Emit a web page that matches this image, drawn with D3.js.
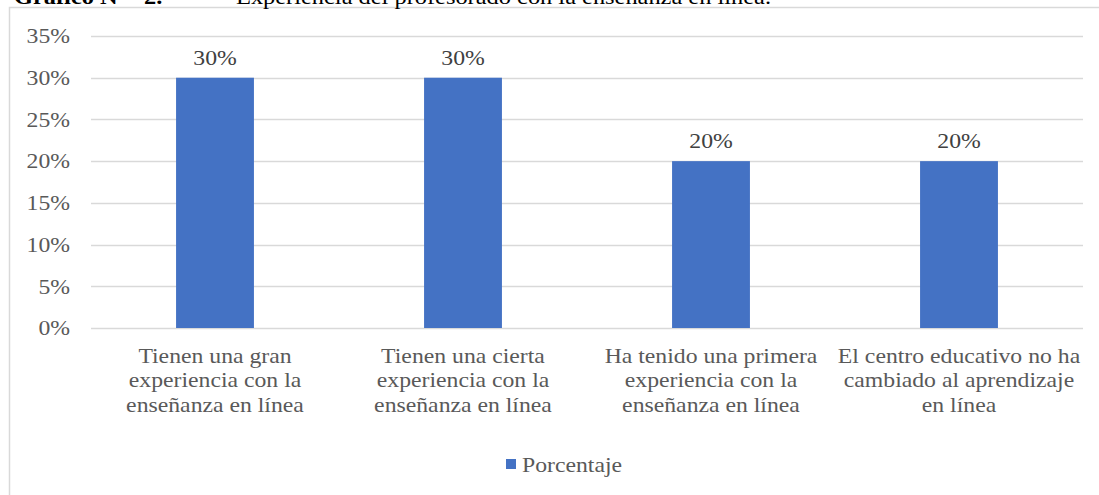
<!DOCTYPE html>
<html>
<head>
<meta charset="utf-8">
<script src="https://cdn.jsdelivr.net/npm/d3@7/dist/d3.min.js"></script>
<style>
  html, body { margin: 0; padding: 0; background: #fff; }
  svg { display: block; }
  text { font-family: "Liberation Serif", "Times New Roman", serif; }
</style>
</head>
<body>
<svg id="chart" width="1099" height="495"></svg>
<script>
// Experiencia del profesorado con la enseñanza en línea
const categories = [
  ["Tienen una gran", "experiencia con la", "enseñanza en línea"],
  ["Tienen una cierta", "experiencia con la", "enseñanza en línea"],
  ["Ha tenido una primera", "experiencia con la", "enseñanza en línea"],
  ["El centro educativo no ha", "cambiado al aprendizaje", "en línea"]
];
const porcentaje = [0.30, 0.30, 0.20, 0.20];
const yTicks = [0, 0.05, 0.10, 0.15, 0.20, 0.25, 0.30, 0.35];
const seriesName = "Porcentaje";

const svg = d3.select("#chart");
const fmt = d3.format(".0%");
const SX = 1.13;          // glyphs are drawn slightly wide
const FS = 21;            // base font size

// place a text at (x, y) with the wide glyph scaling
const at = (x, y) => `translate(${x},${y}) scale(${SX},1)`;

// chart frame (continues past the visible edge)
svg.append("rect")
  .attr("x", 9.5).attr("y", 7.5)
  .attr("width", 1200).attr("height", 600)
  .attr("fill", "#fff").attr("stroke", "#d9d9d9").attr("stroke-width", 1.5);

// title
svg.append("text").attr("transform", at(14, 4))
  .attr("font-size", 21.6).attr("font-weight", "bold").attr("fill", "#000")
  .text("Gráfico N°");
svg.append("text").attr("transform", at(144, 4))
  .attr("font-size", 21.6).attr("font-weight", "bold").attr("fill", "#000")
  .text("2.");
svg.append("text").attr("transform", at(236, 4))
  .attr("font-size", 21.6).attr("fill", "#000")
  .text("Experiencia del profesorado con la enseñanza en línea.");

const x = d3.scaleBand()
  .domain(d3.range(categories.length))
  .range([91, 1083])
  .paddingInner(0.686).paddingOuter(0.343);

const y = d3.scaleLinear().domain([0, 0.35]).range([328, 36]);

// gridlines
svg.append("g")
  .selectAll("line")
  .data(yTicks)
  .join("line")
  .attr("x1", 91).attr("x2", 1083)
  .attr("y1", d => Math.round(y(d)) + 0.5)
  .attr("y2", d => Math.round(y(d)) + 0.5)
  .attr("stroke", "#d9d9d9").attr("stroke-width", 1.5);

// y axis labels
const yAxis = d3.axisLeft(y).tickValues(yTicks).tickFormat(fmt).tickSize(0).tickPadding(0);
const gy = svg.append("g").attr("transform", "translate(70,0)").call(yAxis);
gy.select(".domain").remove();
gy.selectAll("text")
  .attr("font-family", "Liberation Serif, serif")
  .attr("font-size", FS).attr("fill", "#595959")
  .attr("transform", `scale(${SX},1)`);

// bars
svg.append("g")
  .selectAll("rect")
  .data(porcentaje)
  .join("rect")
  .attr("x", (d, i) => x(i))
  .attr("width", x.bandwidth())
  .attr("y", d => y(d))
  .attr("height", d => y(0) - y(d))
  .attr("fill", "#4472c4");

// value labels
svg.append("g")
  .selectAll("text")
  .data(porcentaje)
  .join("text")
  .attr("transform", (d, i) => at(x(i) + x.bandwidth() / 2, y(d) - 13))
  .attr("text-anchor", "middle")
  .attr("font-size", FS).attr("fill", "#404040")
  .text(d => fmt(d));

// category labels
const cat = svg.append("g")
  .selectAll("text")
  .data(categories)
  .join("text")
  .attr("transform", (d, i) => at(x(i) + x.bandwidth() / 2, 363))
  .attr("text-anchor", "middle")
  .attr("font-size", FS).attr("fill", "#595959");
cat.selectAll("tspan")
  .data(d => d)
  .join("tspan")
  .attr("x", 0)
  .attr("dy", (d, j) => j === 0 ? 0 : 24.5)
  .text(d => d);

// legend
const lg = svg.append("g");
lg.append("rect").attr("x", 506).attr("y", 459).attr("width", 10).attr("height", 10).attr("fill", "#4472c4");
lg.append("text").attr("transform", at(522, 472))
  .attr("font-size", FS).attr("fill", "#595959").text(seriesName);
</script>
</body>
</html>
